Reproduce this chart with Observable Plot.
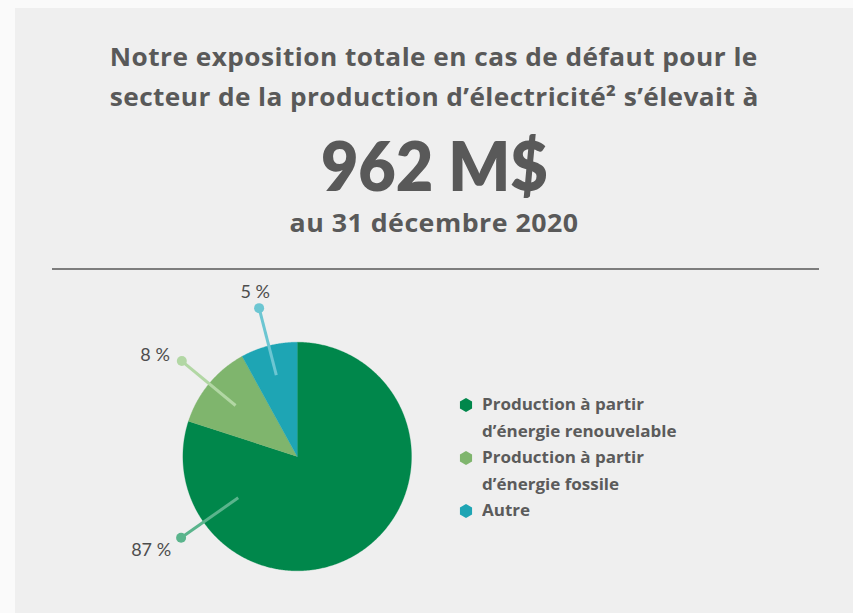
<!DOCTYPE html>
<html><head><meta charset="utf-8">
<script src="https://cdn.jsdelivr.net/npm/d3@7"></script>
<script src="https://cdn.jsdelivr.net/npm/@observablehq/plot@0.6"></script>
<style>
html,body{margin:0;padding:0;background:#fafafa;width:853px;height:613px;overflow:hidden;font-family:"Open Sans",Lato,sans-serif;}
#panel{position:absolute;left:15px;top:8px;width:838px;height:605px;background:#efefef;}
.t{position:absolute;left:0;width:838px;text-align:center;color:#595959;font-weight:700;white-space:nowrap;line-height:1;}
.t span{display:inline-block;transform-origin:50% 50%;}
#sep{position:absolute;left:37px;top:260px;width:767px;height:2px;background:#7d7d7d;}
#chart{position:absolute;left:0;top:280px;}
#legend{position:absolute;left:482px;top:391px;width:260px;color:#5b5b5b;font-weight:700;font-size:16px;line-height:26.5px;}
.item{position:relative;}
.item span{display:block;white-space:nowrap;width:max-content;transform-origin:0 50%;}
.item svg{position:absolute;left:-24px;top:6px;}
</style></head>
<body>
<div id="panel">
  <div class="t" id="t1" style="top:37.2px;font-size:24.5px;"></div>
  <div class="t" id="t2" style="top:77.2px;font-size:24.5px;"></div>
  <div class="t" id="t3" style="top:122.5px;font-size:68px;font-family:Lato,sans-serif;font-weight:800;"></div>
  <div class="t" id="t4" style="top:202.4px;font-size:25px;"></div>
  <div id="sep"></div>
</div>
<div id="chart"></div>
<div id="legend"></div>
<script>
// ---- data ----
const titleLines = ["Notre exposition totale en cas de défaut pour le", "secteur de la production d’électricité² s’élevait à"];
const headline = "962 M$";
const dateLine = "au 31 décembre 2020";
const categories = ["Production à partir d’énergie renouvelable", "Production à partir d’énergie fossile", "Autre"];
const sliceShares = [80, 12, 8];            // slice sizes as drawn in the picture
const shareLabels = ["87 %", "8 %", "5 %"]; // printed labels
// ---- styles / layout ----
const sliceColors = ["#00874b", "#7fb56d", "#1ea5b4"];
const leaderColors = ["#5ab48c", "#b2d7a4", "#6cc6d2"];
const leaderLayout = [
  {angle: 235, r0: 0.63, r1: 1.24, dx: -10, dy: 12, anchor: "end"},
  {angle: null, r0: 0.70, r1: 1.31, dx: -12, dy: -6, anchor: "end"},
  {angle: null, r0: 0.735, r1: 1.34, dx: -4, dy: -16, anchor: "middle"}
];

// widen/narrow a text span to the width it has in the reference
function fitSpan(s, target) {
  const w = s.getBoundingClientRect().width;
  const r = target / w;
  let sx = r;
  if (r > 1) sx = Math.min(r, 1.07);
  const rest = target - w * sx;
  if (Math.abs(rest) > 0.5) {
    const ls = rest / sx / s.textContent.length;
    s.style.letterSpacing = ls + "px";
  }
  s.style.transform = `scaleX(${sx})`;
}
function fit(el, text, target) {
  const s = document.createElement("span");
  s.textContent = text;
  el.appendChild(s);
  fitSpan(s, target);
}
fit(document.getElementById("t1"), titleLines[0], 648);
fit(document.getElementById("t2"), titleLines[1], 649);
fit(document.getElementById("t3"), headline, 227);
fit(document.getElementById("t4"), dateLine, 289);

const W = 440, H = 333, cx = 296.7, cy = 176, R = 114.3;
const pie = d3.pie().sort(null).value(d => d)(sliceShares);
const rad = Math.PI / 180;
const arcPts = [];
pie.forEach((p, i) => {
  const color = sliceColors[i];
  arcPts.push({x: 0, y: 0, k: i, c: color});
  const n = Math.max(4, Math.ceil((p.endAngle - p.startAngle) / (0.5 * rad)));
  for (let j = 0; j <= n; j++) {
    const a = p.startAngle + (p.endAngle - p.startAngle) * j / n;
    arcPts.push({x: Math.sin(a), y: Math.cos(a), k: i, c: color});
  }
  arcPts.push({x: 0, y: 0, k: i, c: color});
});
const leaders = pie.map((p, i) => {
  const L = leaderLayout[i];
  const a = L.angle != null ? L.angle * rad : (p.startAngle + p.endAngle) / 2;
  return {
    x1: L.r0 * Math.sin(a), y1: L.r0 * Math.cos(a),
    x2: L.r1 * Math.sin(a), y2: L.r1 * Math.cos(a),
    c: leaderColors[i], label: shareLabels[i], dx: L.dx, dy: L.dy, anchor: L.anchor
  };
});

const marks = [
  Plot.line(arcPts, {x: "x", y: "y", z: "k", fill: "c", stroke: "c", strokeWidth: 0.3, curve: "linear"}),
  Plot.link(leaders, {x1: "x1", y1: "y1", x2: "x2", y2: "y2", stroke: "c", strokeWidth: 3})
];
leaders.forEach(d => {
  marks.push(Plot.dot([d], {x: "x2", y: "y2", r: 5, fill: "c", stroke: null}));
  marks.push(Plot.text([d], {x: "x2", y: "y2", text: "label", dx: d.dx, dy: d.dy, textAnchor: d.anchor,
    fontSize: 18, fill: "#4d4d4d", fontFamily: "Lato, sans-serif"}));
});

const chart = Plot.plot({
  width: W, height: H, margin: 0,
  x: {domain: [-cx / R, (W - cx) / R], axis: null},
  y: {domain: [-(H - cy) / R, cy / R], axis: null},
  color: {type: "identity"},
  style: {background: "transparent", overflow: "visible"},
  marks
});
document.getElementById("chart").appendChild(chart);

const legend = document.getElementById("legend");
const legendSpans = [];
categories.forEach((c, i) => {
  const div = document.createElement("div");
  div.className = "item";
  const r = 7;
  const pts = d3.range(6).map(k => {
    const a = (90 + 60 * k) * rad;
    return [8 + r * Math.cos(a), 8 - r * Math.sin(a)].join(",");
  }).join(" ");
  div.innerHTML = `<svg width="16" height="16"><polygon points="${pts}" fill="${sliceColors[i]}"/></svg>`;
  legend.appendChild(div);
  const cut = c.indexOf(" d’");
  const lines = cut > 0 ? [c.slice(0, cut), c.slice(cut + 1)] : [c];
  lines.forEach(l => {
    const s = document.createElement("span");
    s.textContent = l;
    div.appendChild(s);
    legendSpans.push(s);
  });
});
// match legend text width to the reference (first line ≈ 162px)
const fw = legendSpans[0].getBoundingClientRect().width;
const lsx = Math.max(0.9, Math.min(1.1, 162 / fw));
legendSpans.forEach(s => s.style.transform = `scaleX(${lsx})`);
</script>
</body></html>
